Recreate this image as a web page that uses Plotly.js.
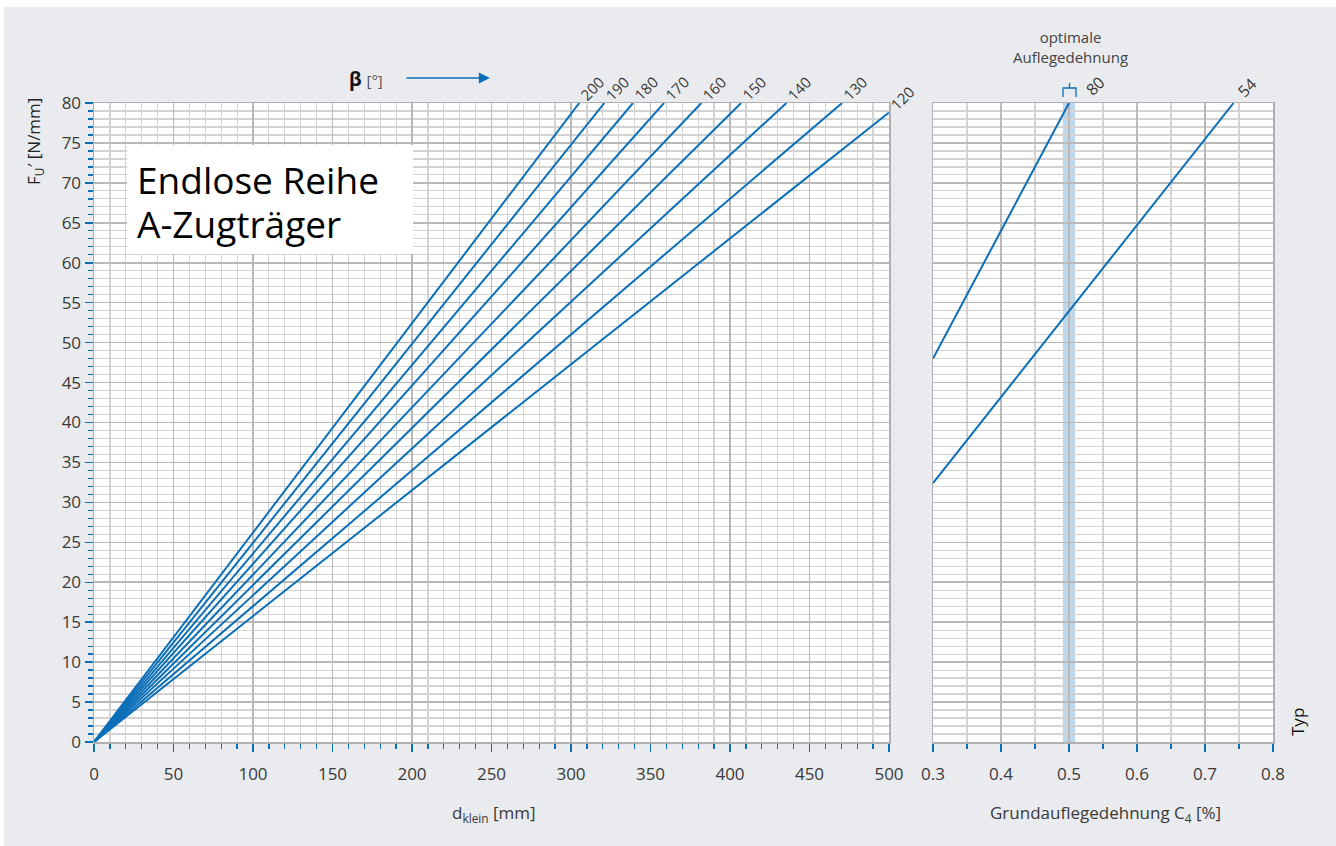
<!DOCTYPE html>
<html>
<head>
<meta charset="utf-8">
<script src="https://cdn.plot.ly/plotly-3.0.1.min.js"></script>
<style>html,body{margin:0;padding:0;background:#ffffff;}#chart{width:1336px;height:846px;}</style>
</head>
<body>
<div id="chart"></div>
<script>
// ---- data ----
const betaLabels = ['200', '190', '180', '170', '160', '150', '140', '130', '120'];
const dStart = [0, 0, 0, 0, 0, 0, 0, 0, 0];
const fStart = [0, 0, 0, 0, 0, 0, 0, 0, 0];
const dEnd = [305.2, 321, 339, 358.5, 382, 407, 435.5, 470.5, 500];
const fEnd = [80, 80, 80, 80, 80, 80, 80, 80, 78.8];

const typLabels = ['80', '54'];
const c4Typ80 = [0.3, 0.4, 0.5];
const fTyp80 = [48, 64, 80];
const c4Typ54 = [0.3, 0.4, 0.5, 0.6, 0.7, 0.742];
const fTyp54 = [32.4, 43.2, 54, 64.8, 75.6, 80];

const optimalBand = [0.491, 0.509];

// ---- layout helpers ----
const W = 1336, H = 846, ML = 94, MR = 63, MT = 103, MB = 104;
const PW = W - ML - MR, PH = H - MT - MB;
const px = x => (x - ML) / PW;
const py = y => (H - MB - y) / PH;

const BLUE = '#0b6fb8';
const FONT = '"Open Sans", "Noto Sans", sans-serif';
const TXT = '#3a3a3a';

const traces = [];
betaLabels.forEach((b, i) => {
  traces.push({
    type: 'scatter', mode: 'lines', xaxis: 'x', yaxis: 'y',
    x: [dStart[i], dEnd[i]], y: [fStart[i], fEnd[i]],
    line: {color: BLUE, width: 2}, name: 'β ' + b, showlegend: false, hoverinfo: 'x+y+name'
  });
});
traces.push({type: 'scatter', mode: 'lines', xaxis: 'x2', yaxis: 'y2', x: c4Typ80, y: fTyp80,
  line: {color: BLUE, width: 2}, name: 'Typ ' + typLabels[0], showlegend: false});
traces.push({type: 'scatter', mode: 'lines', xaxis: 'x2', yaxis: 'y2', x: c4Typ54, y: fTyp54,
  line: {color: BLUE, width: 2}, name: 'Typ ' + typLabels[1], showlegend: false});

const gridMajor = '#b9b9b9', gridMinor = '#d3d3d3';
const tickFont = {family: FONT, size: 17, color: TXT};

const annotations = [];
// beta labels
betaLabels.forEach((b, i) => {
  annotations.push({xref: 'x', yref: 'y', x: dEnd[i], y: fEnd[i], text: b, showarrow: false,
    textangle: -45, xanchor: 'center', yanchor: 'middle', xshift: 13, yshift: 15,
    font: {family: FONT, size: 15, color: TXT}});
});
// typ labels
annotations.push({xref: 'x2', yref: 'y2', x: c4Typ80[c4Typ80.length - 1], y: fTyp80[fTyp80.length - 1], text: typLabels[0],
  showarrow: false, textangle: -45, xshift: 26, yshift: 17, font: {family: FONT, size: 16, color: TXT}});
annotations.push({xref: 'x2', yref: 'y2', x: c4Typ54[c4Typ54.length - 1], y: fTyp54[fTyp54.length - 1], text: typLabels[1],
  showarrow: false, textangle: -45, xshift: 13, yshift: 15, font: {family: FONT, size: 16, color: TXT}});
// beta header
annotations.push({xref: 'paper', yref: 'paper', x: px(366), y: py(79), text: '<b>β</b> <span style="font-size:15px;color:#555">[°]</span>',
  showarrow: false, xanchor: 'center', yanchor: 'middle', font: {family: FONT, size: 19, color: '#111'}});
annotations.push({xref: 'paper', yref: 'paper', x: px(490), y: py(78), ax: -85, ay: 0, text: '',
  showarrow: true, arrowhead: 2, arrowsize: 1.4, arrowwidth: 1.6, arrowcolor: BLUE});
// y axis title
annotations.push({xref: 'paper', yref: 'paper', x: px(34), y: py(142), text: 'F<sub>U</sub>′ [N/mm]',
  showarrow: false, textangle: -90, xanchor: 'center', yanchor: 'middle', font: {family: FONT, size: 17, color: '#222'}});
// x axis titles
annotations.push({xref: 'paper', yref: 'paper', x: px(494), y: py(813), text: 'd<sub>klein</sub> [mm]',
  showarrow: false, xanchor: 'center', yanchor: 'middle', font: {family: FONT, size: 17, color: TXT}});
annotations.push({xref: 'paper', yref: 'paper', x: px(1105), y: py(813), text: 'Grundauflegedehnung C<sub>4</sub> [%]',
  showarrow: false, xanchor: 'center', yanchor: 'middle', font: {family: FONT, size: 17, color: TXT}});
// optimal text
annotations.push({xref: 'paper', yref: 'paper', x: px(1070), y: py(47), text: 'optimale<br>Auflegedehnung',
  showarrow: false, xanchor: 'center', yanchor: 'middle', font: {family: FONT, size: 15, color: '#444'}});
// Typ
annotations.push({xref: 'paper', yref: 'paper', x: px(1297), y: py(722), text: 'Typ',
  showarrow: false, textangle: -90, xanchor: 'center', yanchor: 'middle', font: {family: FONT, size: 17, color: '#111'}});
// box text
annotations.push({xref: 'paper', yref: 'paper', x: px(135), y: py(179), text: 'Endlose Reihe',
  showarrow: false, xanchor: 'left', yanchor: 'middle', font: {family: FONT, size: 37, color: '#000'}});
annotations.push({xref: 'paper', yref: 'paper', x: px(135), y: py(224), text: 'A-Zugträger',
  showarrow: false, xanchor: 'left', yanchor: 'middle', font: {family: FONT, size: 37, color: '#000'}});

const shapes = [
  // background panel
  {type: 'rect', xref: 'paper', yref: 'paper', x0: px(4), x1: px(W), y0: py(7), y1: py(H), fillcolor: '#e9ebee', line: {width: 0}, layer: 'below'},
  // white plot areas
  {type: 'rect', xref: 'x', yref: 'y', x0: 0, x1: 500, y0: 0, y1: 80, fillcolor: '#ffffff', line: {width: 0}, layer: 'below'},
  {type: 'rect', xref: 'x2', yref: 'y2', x0: 0.3, x1: 0.8, y0: 0, y1: 80, fillcolor: '#ffffff', line: {width: 0}, layer: 'below'},
  // optimal band
  {type: 'rect', xref: 'x2', yref: 'y2', x0: optimalBand[0], x1: optimalBand[1], y0: 0, y1: 80, fillcolor: '#bcd6eb', line: {width: 0}, layer: 'below'},
  // bracket marker
  {type: 'path', xref: 'paper', yref: 'paper',
   path: `M ${px(1063)} ${py(97)} L ${px(1063)} ${py(88)} L ${px(1076)} ${py(88)} L ${px(1076)} ${py(97)} M ${px(1069.5)} ${py(88)} L ${px(1069.5)} ${py(83)}`,
   line: {color: BLUE, width: 1.3}},
  // text box
  {type: 'rect', xref: 'paper', yref: 'paper', x0: px(127), x1: px(413), y0: py(145), y1: py(254), fillcolor: '#ffffff', line: {width: 0}, layer: 'above'}
];

const axisCommon = {
  showline: true, linecolor: '#b0b0b0', linewidth: 1.5, mirror: true,
  ticks: 'outside', tickcolor: BLUE, tickwidth: 1.5, ticklen: 8,
  showgrid: true, gridcolor: gridMajor, gridwidth: 1.6, zeroline: false,
  tickfont: tickFont, fixedrange: true
};

const layout = {
  width: W, height: H,
  margin: {l: ML, r: MR, t: MT, b: MB},
  paper_bgcolor: '#ffffff', plot_bgcolor: '#ffffff',
  showlegend: false,
  font: {family: FONT, color: TXT},
  xaxis: Object.assign({}, axisCommon, {
    domain: [0, px(889)], range: [0, 500], dtick: 50, tick0: 0, anchor: 'y',
    ticklabelstandoff: 8,
    minor: {dtick: 10, showgrid: true, gridcolor: gridMinor, gridwidth: 1.2, ticks: 'outside', ticklen: 5, tickcolor: BLUE, tickwidth: 1.3}
  }),
  yaxis: Object.assign({}, axisCommon, {
    domain: [0, 1], range: [0, 80], dtick: 5, tick0: 0, anchor: 'x',
    minor: {dtick: 1, showgrid: true, gridcolor: gridMinor, gridwidth: 1.2, ticks: 'outside', ticklen: 5, tickcolor: BLUE, tickwidth: 1.3}
  }),
  xaxis2: Object.assign({}, axisCommon, {
    domain: [px(933), 1], range: [0.3, 0.8], dtick: 0.1, tick0: 0.3, anchor: 'y2',
    ticklabelstandoff: 8,
    minor: {dtick: 0.05, showgrid: true, gridcolor: gridMinor, gridwidth: 1.2, ticks: 'outside', ticklen: 5, tickcolor: BLUE, tickwidth: 1.3}
  }),
  yaxis2: Object.assign({}, axisCommon, {
    domain: [0, 1], range: [0, 80], dtick: 5, anchor: 'x2', ticks: '', showticklabels: false,
    minor: {dtick: 1, showgrid: true, gridcolor: gridMinor, gridwidth: 1.2}
  }),
  annotations: annotations,
  shapes: shapes
};

Plotly.newPlot('chart', traces, layout, {displayModeBar: false, staticPlot: true});
</script>
</body>
</html>
